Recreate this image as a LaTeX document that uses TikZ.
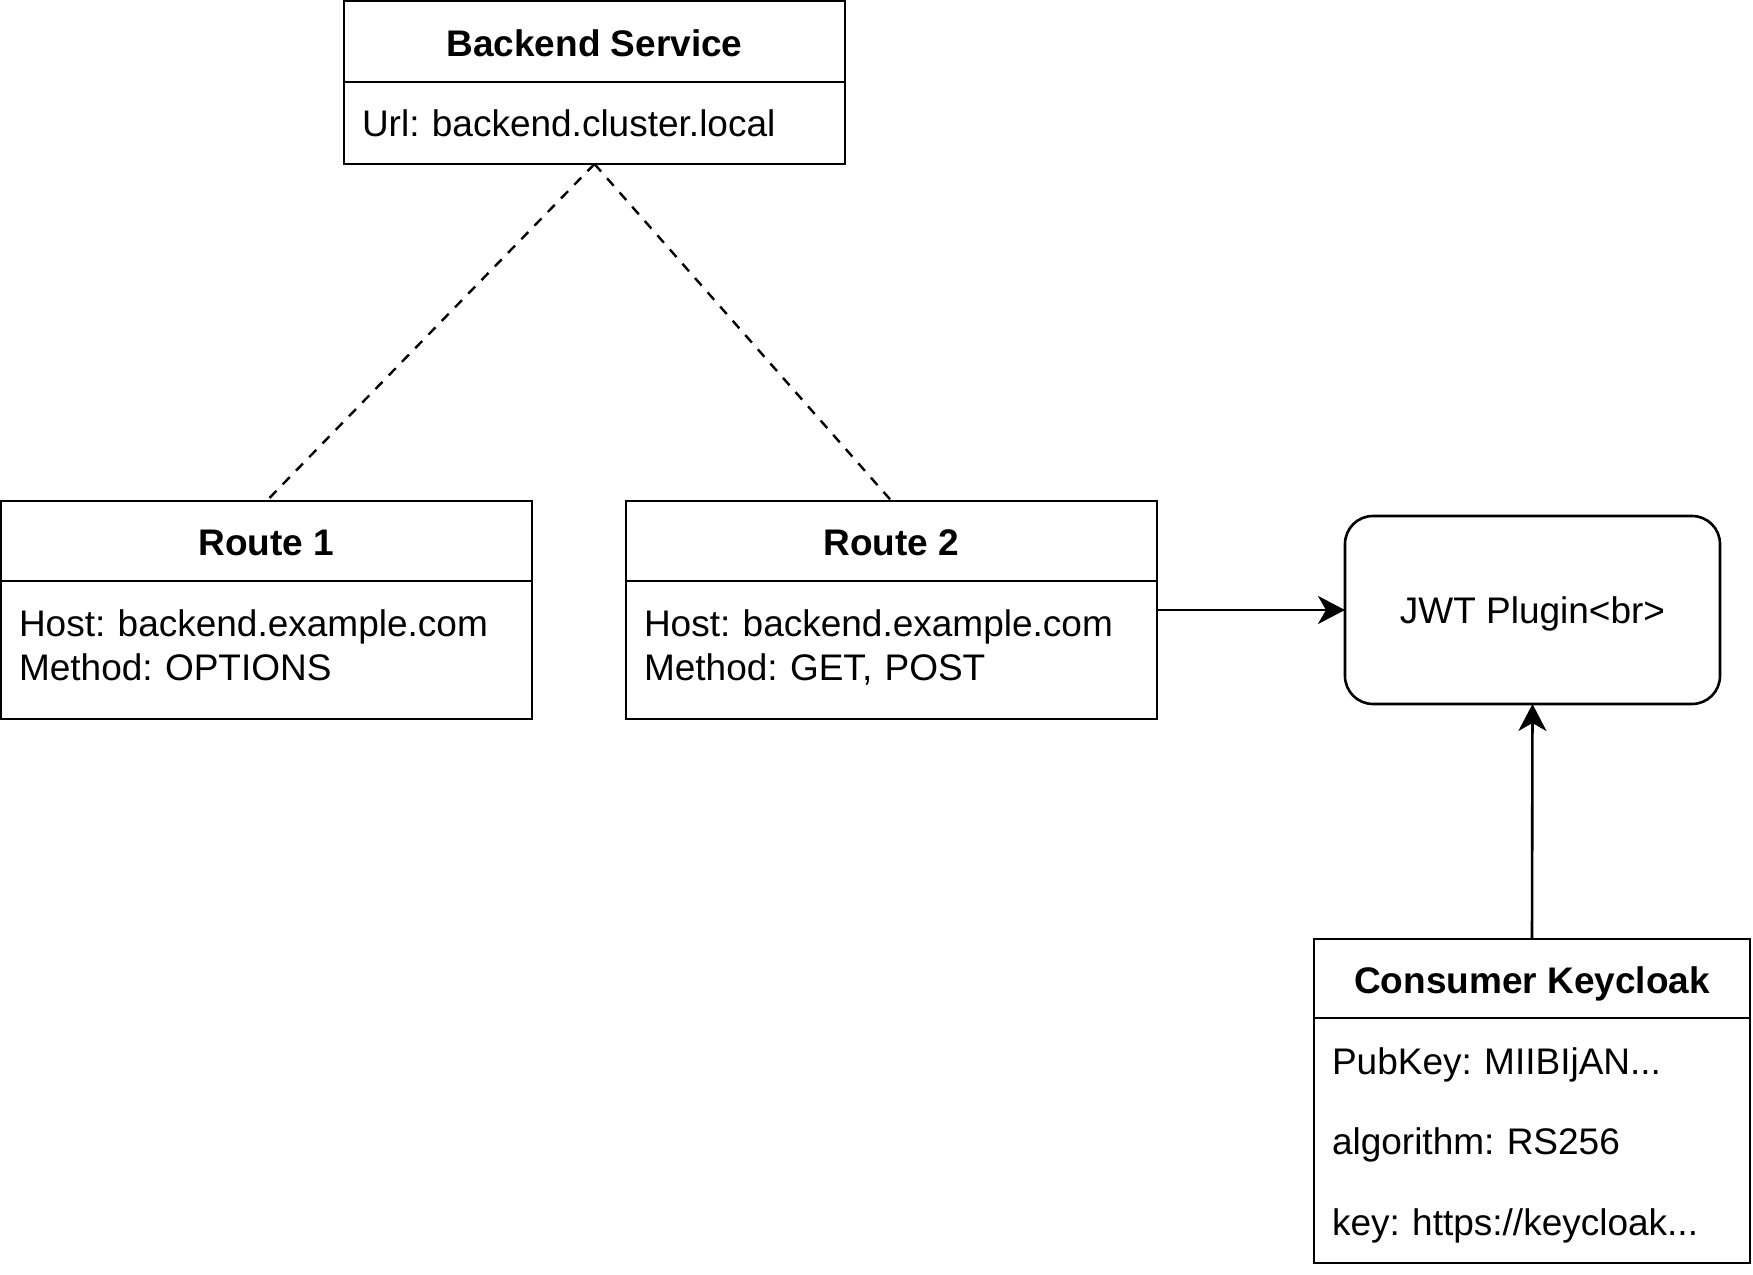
\documentclass[tikz,border=0pt]{standalone}
\usepackage{fontspec}
\setmainfont{Liberation Sans}
\frenchspacing
\usetikzlibrary{positioning,arrows.meta}
\begin{document}
\begin{tikzpicture}[x=0.5pt,y=0.5pt,
  every node/.style={font=\fontsize{18.5}{22}\selectfont,outer sep=0pt,line width=1.3pt},
  hdr/.style={draw,rectangle,font=\fontsize{18.5}{22}\selectfont\bfseries,inner sep=0pt,text height=15pt,text depth=0pt},
  body/.style={draw,rectangle,align=left,inner xsep=9pt,inner ysep=0pt},
  plugin/.style={draw,rectangle,rounded corners=14pt,inner sep=0pt},
  link/.style={line width=1.2pt,dash pattern=on 5pt off 4.5pt},
  arr/.style={line width=1.3pt,-{Stealth[length=13.5pt,width=14pt,inset=4pt]}}]
 \useasboundingbox (0,0) rectangle (1753,1275);
 \node [hdr,minimum width=250.5pt,minimum height=40.5pt] (bs) at (594.5,1233.5) {Backend Service};
 \node [body,text width=232.5pt,minimum height=41pt,below=0pt of bs] (bsb) {Url: backend.cluster.local};
 \node [hdr,minimum width=265.5pt,minimum height=40pt] (r1) at (266.5,734) {Route 1};
 \node [body,text width=247.5pt,minimum height=69pt,text depth=26.6pt,below=0pt of r1] (r1b) {Host: backend.example.com\\Method: OPTIONS};
 \node [hdr,minimum width=265.5pt,minimum height=40pt] (r2) at (891.5,734) {Route 2};
 \node [body,text width=247.5pt,minimum height=69pt,text depth=26.6pt,below=0pt of r2] (r2b) {Host: backend.example.com\\Method: GET, POST};
 \node [plugin,minimum width=187.5pt,minimum height=94pt,text height=13.5pt,text depth=-5.8pt] (jwt) at (1532.5,665) {JWT Plugin\textless br\textgreater};
 \node [hdr,minimum width=218pt,minimum height=39.5pt] (kc) at (1532,296.5) {Consumer Keycloak};
 \node [body,text width=200pt,minimum height=122.5pt,text depth=79.5pt,below=0pt of kc,font=\fontsize{18.5}{40.25}\selectfont] (kcb) {PubKey: MIIBIjAN...\\algorithm: RS256\\key: https://keycloak...};
 \draw [link] (bsb.south) -- (r1.north);
 \draw [link] (bsb.south) -- (r2.north);
 \draw [arr] (r2b.east |- jwt.west) -- (jwt.west);
 \draw [arr] (kc.north) -- (jwt.south);
\end{tikzpicture}
\end{document}
